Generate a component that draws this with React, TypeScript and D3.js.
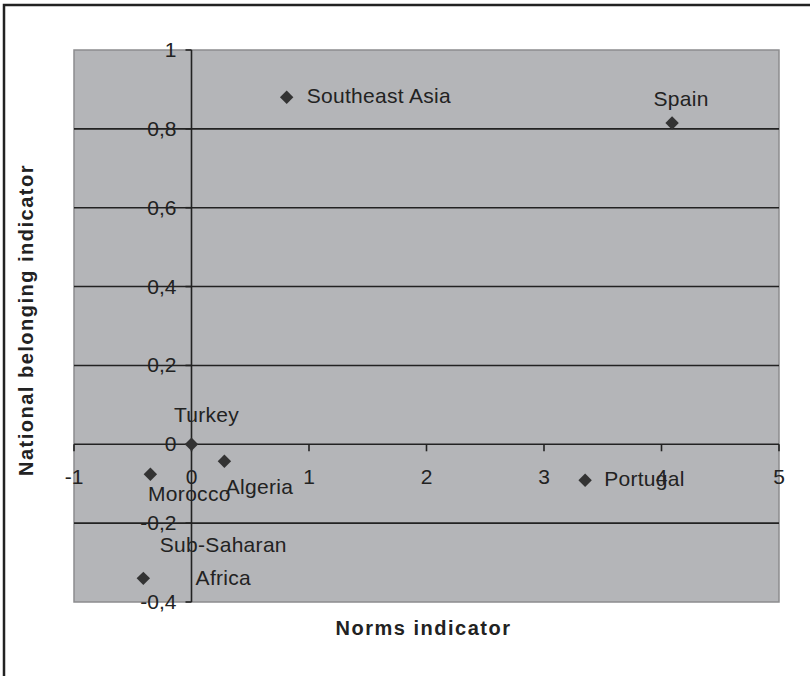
import React from 'react';
import * as d3 from 'd3';

// countries and their indicator values
const countries = ['Southeast Asia', 'Spain', 'Turkey', 'Morocco', 'Algeria', 'Sub-Saharan Africa', 'Portugal'];
const normsValues = [0.81, 4.09, 0.0, -0.35, 0.28, -0.41, 3.35];
const belongingValues = [0.88, 0.815, 0.0, -0.076, -0.043, -0.34, -0.091];

const xTicks = [-1, 0, 1, 2, 3, 4, 5];
const yTicks = [-0.4, -0.2, 0, 0.2, 0.4, 0.6, 0.8, 1];

// label placement relative to the marker (dx, dy of baseline, anchor, lines)
const labelPlacement: Record<string, { dx: number; dy: number; anchor: string; lines: string[] }> = {
    'Southeast Asia': { dx: 20, dy: 6, anchor: 'start', lines: ['Southeast Asia'] },
    'Spain': { dx: 9, dy: -17, anchor: 'middle', lines: ['Spain'] },
    'Turkey': { dx: 15, dy: -22, anchor: 'middle', lines: ['Turkey'] },
    'Morocco': { dx: 39, dy: 27, anchor: 'middle', lines: ['Morocco'] },
    'Algeria': { dx: 35, dy: 33, anchor: 'middle', lines: ['Algeria'] },
    'Sub-Saharan Africa': { dx: 80, dy: -26, anchor: 'middle', lines: ['Sub-Saharan', 'Africa'] },
    'Portugal': { dx: 19, dy: 6, anchor: 'start', lines: ['Portugal'] },
};

const W = 810;
const H = 676;
const plot = { left: 74, right: 779, top: 50, bottom: 602 };
const FONT = '"Liberation Sans", Arial, sans-serif';
const INK = '#222';

export default function App() {
    const x = d3.scaleLinear().domain([-1, 5]).range([plot.left, plot.right]);
    const y = d3.scaleLinear().domain([-0.4, 1]).range([plot.bottom, plot.top]);
    const fmt = (v: number) => (Math.round(v * 10) / 10).toString().replace('.', ',');
    const diamond = d3.symbol().type(d3.symbolDiamond2).size(115)();

    return (
        <svg width={W} height={H} style={{ position: 'absolute', left: 0, top: 0, background: '#fff' }}
            fontFamily={FONT}>
            {/* outer frame, cut off at right and bottom */}
            <rect x={4} y={5} width={W + 20} height={H + 20} fill="#fff" stroke={INK} strokeWidth={2.5} />

            {/* plot area */}
            <rect x={plot.left} y={plot.top} width={plot.right - plot.left} height={plot.bottom - plot.top}
                fill="#b4b5b8" stroke="#8c8c8e" strokeWidth={1.5} />

            {/* horizontal gridlines */}
            {yTicks.filter(t => t > -0.4 && t < 1).map(t => (
                <line key={'g' + t} x1={plot.left} x2={plot.right} y1={y(t)} y2={y(t)} stroke={INK} strokeWidth={1.6} />
            ))}

            {/* y axis at x = 0 */}
            <line x1={x(0)} x2={x(0)} y1={plot.top} y2={plot.bottom} stroke={INK} strokeWidth={1.6} />
            {yTicks.map(t => (
                <g key={'y' + t}>
                    <line x1={x(0) - 6} x2={x(0)} y1={y(t)} y2={y(t)} stroke={INK} strokeWidth={1.6} />
                    <text x={x(0) - 15} y={y(t) + 7} textAnchor="end" fontSize={21} fill={INK}>{fmt(t)}</text>
                </g>
            ))}

            {/* x axis at y = 0 */}
            {xTicks.map(t => (
                <g key={'x' + t}>
                    <line x1={x(t)} x2={x(t)} y1={y(0)} y2={y(0) + 7} stroke={INK} strokeWidth={1.6} />
                    <text x={x(t)} y={y(0) + 40} textAnchor="middle" fontSize={21} fill={INK}>{fmt(t)}</text>
                </g>
            ))}

            {/* points and labels */}
            {countries.map((c, i) => {
                const px = x(normsValues[i]);
                const py = y(belongingValues[i]);
                const lp = labelPlacement[c];
                return (
                    <g key={c}>
                        <path d={diamond} transform={`translate(${px},${py})`} fill="#333" />
                        {lp.lines.map((ln, j) => (
                            <text key={ln} x={px + lp.dx} y={py + lp.dy + j * 33} textAnchor={lp.anchor}
                                fontSize={21} fill={INK} letterSpacing={0.3}>{ln}</text>
                        ))}
                    </g>
                );
            })}

            {/* axis titles */}
            <text x={(plot.left + plot.right) / 2 - 3} y={635} textAnchor="middle" fontSize={20}
                fontWeight="bold" letterSpacing={1.5} fill={INK}>Norms indicator</text>
            <text transform={`translate(33,${(plot.top + plot.bottom) / 2 - 6}) rotate(-90)`} textAnchor="middle"
                fontSize={20} fontWeight="bold" letterSpacing={1.5} fill={INK}>National belonging indicator</text>
        </svg>
    );
}
